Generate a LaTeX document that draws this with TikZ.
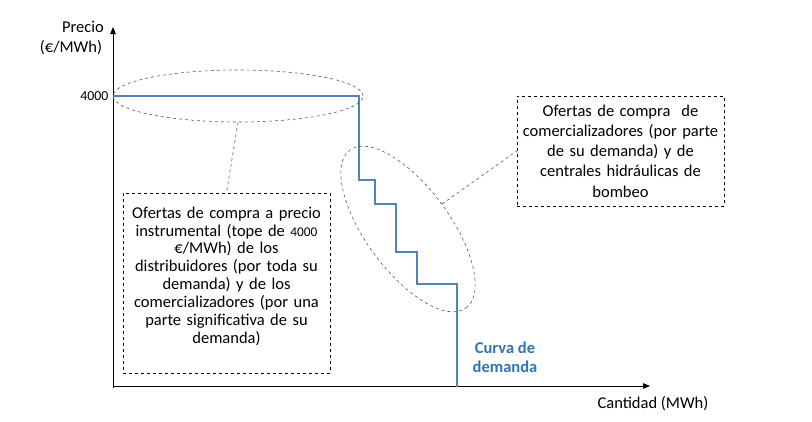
\documentclass[tikz,border=0pt]{standalone}
\usepackage{fontspec}
\setmainfont{Carlito}
\usetikzlibrary{shapes.geometric,arrows.meta}
\definecolor{curveblue}{RGB}{79,129,189}
\definecolor{labelblue}{RGB}{46,117,182}
\tikzset{
  axis/.style={line width=0.8pt,-{Triangle[length=7pt,width=5.5pt]}},
  curve/.style={line width=1.6pt,curveblue},
  oval/.style={ellipse,draw=black!65,dashed,line width=0.6pt,inner sep=0pt},
  note/.style={draw,dashed,line width=0.6pt,align=center,inner sep=1pt,text width=205pt},
  lead/.style={draw=black!65,dashed,line width=0.6pt},
  txt/.style={font=\fontsize{16.5}{18}\selectfont,inner sep=0pt}
}
\begin{document}
\begin{tikzpicture}[x=1pt,y=-1pt]
\useasboundingbox[fill=white] (0,0) rectangle (812,421);
% axes
\coordinate (ytop) at (113,27);
\coordinate (xend) at (650,386);
\draw[axis] (113,388) -- (ytop);
\draw[axis] (113,386) -- (xend);
% axis labels
\node[txt] (precio) at (83,27) {Precio};
\node[txt] (unit) at (71,48) {(€/MWh)};
\node[txt,anchor=east,font=\fontsize{13.8}{15}\selectfont] (tope) at (108.5,96) {4000};
\node[txt] (cant) at (653,404) {Cantidad (MWh)};
% demand curve
\draw[curve] (113,96) -- (359,96) -- (359,180) -- (375,180) -- (375,204) -- (396,204)
  -- (396,252) -- (417,252) -- (417,284) -- (457,284) -- (457,387);
\node[txt,align=center,text=labelblue,font=\fontsize{16.5}{19}\selectfont\bfseries] (curva) at (505,357) {Curva de\\demanda};
% ovals
\node[oval,minimum width=250pt,minimum height=52pt] (e1) at (238,96) {};
\node[oval,minimum width=196pt,minimum height=84pt,rotate=-53.7] (e2) at (408,229) {};
% notes
\node[note,minimum height=180pt,font=\fontsize{16.5}{17.9}\selectfont] (lbox) at (226.5,283) {Ofertas de compra a precio\\instrumental (tope de {\fontsize{13.3}{14}\selectfont 4000}\\€/MWh) de los\\distribuidores (por toda su\\demanda) y de los\\comercializadores (por una\\parte significativa de su\\demanda)\\[-2pt]\mbox{}};
\node[note,minimum height=110pt,font=\fontsize{16.5}{20.2}\selectfont] (rbox) at (620.5,151) {Ofertas de compra\ \ de\\comercializadores (por parte\\de su demanda) y de\\centrales hidráulicas de\\bombeo};
% leaders
\draw[lead] (e1.south) -- (lbox.north);
\draw[lead] (e2.north) -- (rbox.west);
\end{tikzpicture}
\end{document}
